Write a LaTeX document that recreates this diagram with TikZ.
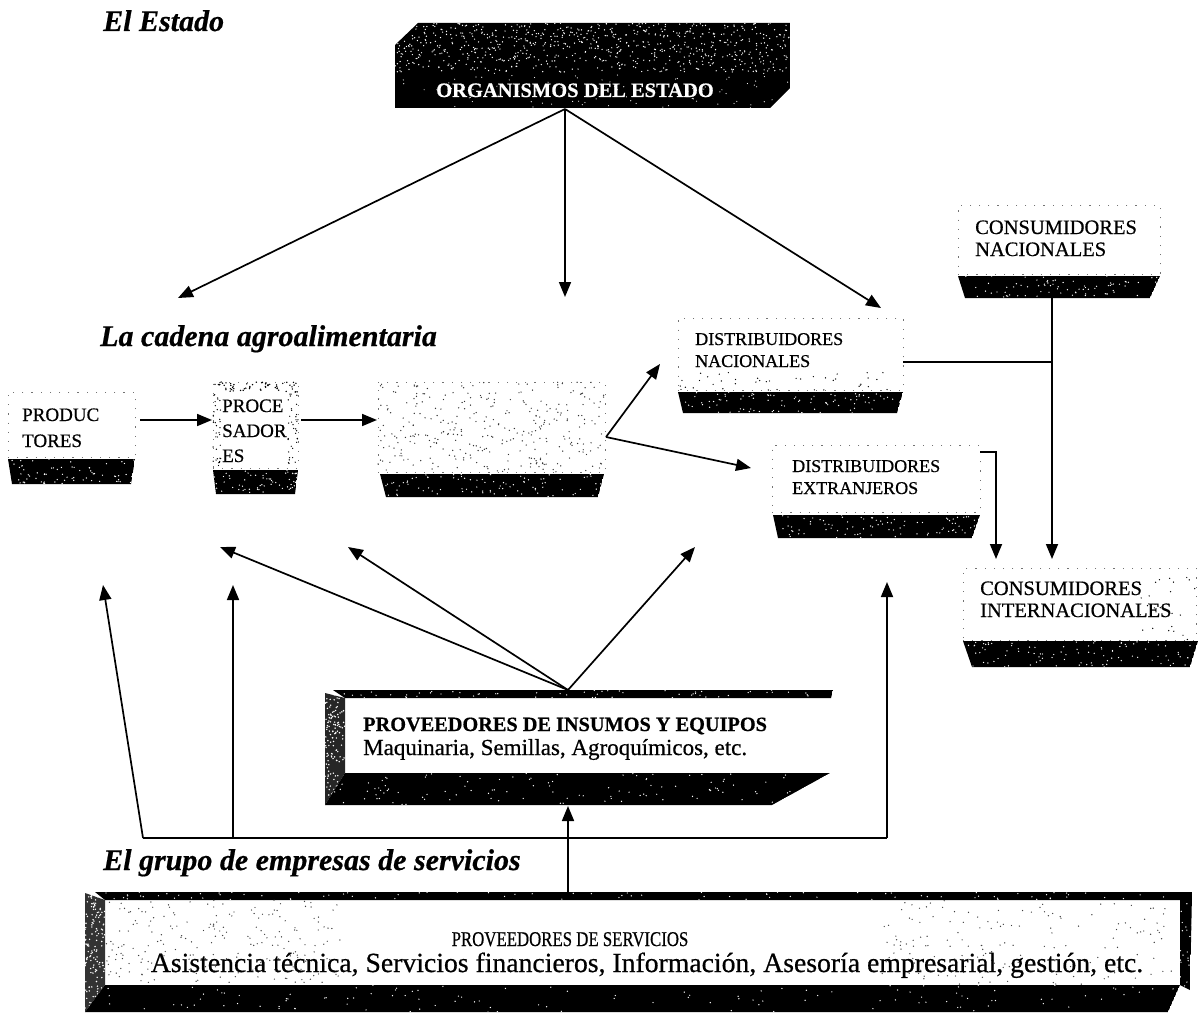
\documentclass[tikz,border=0pt]{standalone}
\usepackage{fontspec}
\setmainfont{Liberation Serif}[FakeBold=0.6]
\usetikzlibrary{arrows.meta}

% scattered specks inside a rectangle: x1 y1 x2 y2 count colour radius
\newcommand\specks[7]{%
  \foreach \ii in {1,...,#5}{%
    \pgfmathsetmacro\spx{#1+rnd*(#3-#1)}%
    \pgfmathsetmacro\spy{#2+rnd*(#4-#2)}%
    \fill[#6] (\spx,\spy) circle[radius=#7];
  }}
% dark textured face: path, bounding box, number of white specks
\newcommand\darkface[6]{%
  \begin{scope}
    \clip #1;
    \fill[black] #1;
    \specks{#2}{#3}{#4}{#5}{#6}{white}{0.7pt}
  \end{scope}}

\tikzset{
  conn/.style={line width=1.7pt, -{Triangle[length=15pt,width=12pt]}},
  plainline/.style={line width=1.5pt},
  face/.style={inner sep=0pt, draw=black!55, line width=1pt, dash pattern=on 1.2pt off 8pt},
  title/.style={inner sep=0pt, anchor=base west, font=\fontsize{30}{36}\selectfont\bfseries\itshape},
  lbl/.style={inner sep=0pt, anchor=base west},
  boxtxt/.style={lbl, font=\fontsize{19}{23}\selectfont},
  disttxt/.style={lbl, font=\fontsize{18}{22}\selectfont},
  constxt/.style={lbl, font=\fontsize{20.5}{24}\selectfont},
}

\begin{document}
\begin{tikzpicture}[x=1pt,y=-1pt]
\pgfmathsetseed{11}
\useasboundingbox (0,0) rectangle (1198,1014);
\fill[white] (0,0) rectangle (1198,1014);

% ---------- section headings ----------
\node[title] (hEstado) at (103,31) {El Estado};
\node[title] (hCadena) at (100,346) {La cadena agroalimentaria};
\node[title] (hGrupo) at (103,870) {El grupo de empresas de servicios};

% ---------- state agencies slab ----------
\darkface{(395,45) -- (418,23) -- (790,23) -- (790,88) -- (770,108) -- (395,108) -- cycle}{395}{23}{790}{72}{750}
\begin{scope}
  \clip (395,72) rectangle (790,108);
  \specks{395}{72}{790}{108}{90}{white}{0.6pt}
\end{scope}
\node[inner sep=0pt, anchor=base, text=white, font=\fontsize{20.5}{25}\selectfont\bfseries] (org) at (575,97) {ORGANISMOS DEL ESTADO};

\coordinate (orgOut) at (565,109);
\coordinate (eTipA) at (178,298);
\coordinate (eTipB) at (565,297);
\coordinate (eTipC) at (881,308);
\draw[conn] (orgOut) -- (eTipA);
\draw[conn] (orgOut) -- (eTipB);
\draw[conn] (orgOut) -- (eTipC);

% ---------- agri-food chain ----------
% producers
\node[face, minimum width=127pt, minimum height=65pt] (prod) at (71.5,424.5) {};
\darkface{(8,459) -- (135,459) -- (131,484) -- (12,484) -- cycle}{8}{459}{135}{484}{70}
\node[boxtxt] (prod1) at (22,421) {PRODUC};
\node[boxtxt] (prod2) at (22,447) {TORES};

% processors
\node[face, minimum width=85pt, minimum height=86pt] (proc) at (255.5,425) {};
\specks{213}{382}{298}{392}{60}{black}{0.8pt}
\specks{213}{392}{221}{468}{35}{black}{0.7pt}
\specks{288}{392}{298}{468}{35}{black}{0.7pt}
\darkface{(213,470) -- (298,470) -- (295,494) -- (216,494) -- cycle}{213}{470}{298}{494}{60}
\node[boxtxt] (proc1) at (222,412) {PROCE};
\node[boxtxt] (proc2) at (222,437) {SADOR};
\node[boxtxt] (proc3) at (222,462) {ES};

% third stage (blank)
\node[face, minimum width=227pt, minimum height=90pt] (stage) at (491.5,427) {};
\specks{378}{382}{605}{472}{320}{black!80}{0.7pt}
\darkface{(380,474) -- (604,474) -- (598,497) -- (386,497) -- cycle}{380}{474}{604}{497}{90}

\coordinate (prodOut) at (140,420);
\coordinate (procIn) at (212,420);
\coordinate (procOut) at (301,420);
\coordinate (stageIn) at (377,420);
\draw[conn] (prodOut) -- (procIn);
\draw[conn] (procOut) -- (stageIn);

% national distributors
\node[face, minimum width=225pt, minimum height=72pt] (dnac) at (790.5,354) {};
\specks{678}{372}{903}{390}{40}{black}{0.7pt}
\darkface{(678,392) -- (903,392) -- (897,413) -- (683,413) -- cycle}{678}{392}{903}{413}{90}
\node[disttxt] (dnac1) at (695,345) {DISTRIBUIDORES};
\node[disttxt] (dnac2) at (695,367) {NACIONALES};

% foreign distributors
\node[face, minimum width=208pt, minimum height=67pt] (dext) at (876,478.5) {};
\darkface{(773,515) -- (980,515) -- (972,538) -- (778,538) -- cycle}{773}{515}{980}{538}{90}
\node[disttxt] (dext1) at (792,472) {DISTRIBUIDORES};
\node[disttxt] (dext2) at (792,494) {EXTRANJEROS};

\coordinate (stageOut) at (606,437);
\coordinate (dnacIn) at (660,364);
\coordinate (dextIn) at (751,468);
\draw[conn] (stageOut) -- (dnacIn);
\draw[conn] (stageOut) -- (dextIn);

% ---------- consumers ----------
\node[face, minimum width=202pt, minimum height=69pt] (cnac) at (1059,239.5) {};
\darkface{(958,276) -- (1160,276) -- (1150,298) -- (965,298) -- cycle}{958}{276}{1160}{298}{80}
\node[constxt] (cnac1) at (975,234) {CONSUMIDORES};
\node[constxt] (cnac2) at (975,256) {NACIONALES};

\node[face, minimum width=233pt, minimum height=72pt] (cint) at (1079.5,604) {};
\specks{1140}{575}{1196}{640}{25}{black}{0.7pt}
\darkface{(963,641) -- (1198,641) -- (1190,667) -- (972,667) -- cycle}{963}{641}{1198}{667}{100}
\node[constxt] (cint1) at (980,595) {CONSUMIDORES};
\node[constxt] (cint2) at (980,617) {INTERNACIONALES};

\coordinate (cnacOut) at (1052,298);
\coordinate (cintInB) at (1052,559);
\coordinate (dnacOut) at (903,362);
\coordinate (nacJoin) at (1052,362);
\coordinate (dextOut) at (980,452);
\coordinate (cintInA) at (996,559);
\draw[conn] (cnacOut) -- (cintInB);
\draw[plainline] (dnacOut) -- (nacJoin);
\draw[conn] (dextOut) -- (996,452) -- (cintInA);

% ---------- input suppliers slab ----------
\darkface{(333,690) -- (833,690) -- (831,698) -- (345,698) -- cycle}{333}{690}{833}{698}{60}
\node[inner sep=0pt, minimum width=485pt, minimum height=75pt] (sup) at (587.5,735.5) {};
\begin{scope}
  \clip (325,693) -- (345,698) -- (345,773) -- (325,805) -- cycle;
  \fill[black!85] (320,690) rectangle (350,810);
  \specks{325}{693}{345}{805}{140}{white}{0.8pt}
\end{scope}
\darkface{(325,805) -- (345,773) -- (830,773) -- (772,805) -- cycle}{325}{773}{830}{805}{120}
\node[lbl, font=\fontsize{20.3}{24}\selectfont\bfseries] (sup1) at (363,731) {PROVEEDORES DE INSUMOS Y EQUIPOS};
\node[lbl, font=\fontsize{23}{27}\selectfont] (sup2) at (363,755) {Maquinaria, Semillas, Agroquímicos, etc.};

\coordinate (supOut) at (568,690);
\coordinate (procUp) at (220,547);
\coordinate (stageUpA) at (348,547);
\coordinate (stageUpB) at (695,547);
\draw[conn] (supOut) -- (procUp);
\draw[conn] (supOut) -- (stageUpA);
\draw[conn] (supOut) -- (stageUpB);

% ---------- service providers slab ----------
\darkface{(95,892) -- (1192,892) -- (1190,900) -- (105,900) -- cycle}{95}{892}{1192}{900}{90}
\node[inner sep=0pt, minimum width=1075pt, minimum height=85pt] (serv) at (642.5,942.5) {};
\specks{105}{900}{340}{985}{220}{black!75}{0.7pt}
\specks{880}{900}{1180}{985}{160}{black!75}{0.7pt}
\begin{scope}
  \clip (85,893) -- (105,900) -- (105,985) -- (85,1012) -- cycle;
  \fill[black!80] (80,890) rectangle (110,1014);
  \specks{85}{893}{105}{1012}{150}{white}{0.8pt}
\end{scope}
\darkface{(85,1012) -- (105,985) -- (1180,985) -- (1168,1012) -- cycle}{85}{985}{1180}{1012}{120}
\darkface{(1180,893) -- (1192,893) -- (1190,990) -- (1180,985) -- cycle}{1180}{893}{1192}{990}{20}
\node[inner sep=0pt, anchor=base] (serv1) at (570,946) {\scalebox{0.8}[1]{\fontsize{21}{25}\selectfont PROVEEDORES DE SERVICIOS}};
\node[inner sep=0pt, anchor=base, font=\fontsize{27.7}{31}\selectfont] (serv2) at (647,972) {Asistencia técnica, Servicios financieros, Información, Asesoría empresarial, gestión, etc.};

\coordinate (servOut) at (568,892);
\coordinate (supIn) at (568,806);
\draw[conn] (servOut) -- (supIn);

% distribution bus to the chain
\coordinate (busL) at (143,838);
\coordinate (busM) at (233,838);
\coordinate (busR) at (887,838);
\coordinate (prodUp) at (103,585);
\coordinate (procUpB) at (233,585);
\coordinate (distUp) at (887,582);
\draw[plainline] (busL) -- (busR);
\draw[conn] (busL) -- (prodUp);
\draw[conn] (busM) -- (procUpB);
\draw[conn] (busR) -- (distUp);
\end{tikzpicture}
\end{document}
